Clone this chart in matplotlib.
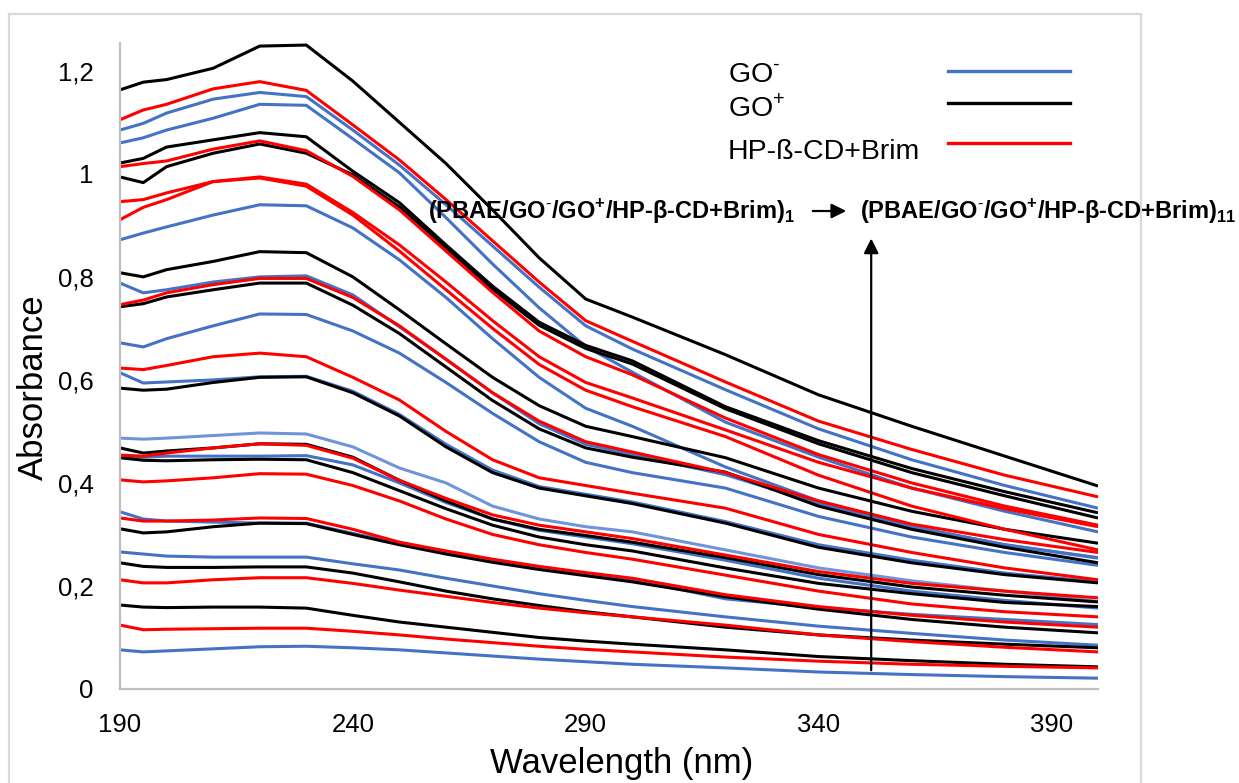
import matplotlib
matplotlib.use('Agg')
import matplotlib.pyplot as plt
from matplotlib.lines import Line2D

plt.rcParams['font.family'] = ['Liberation Sans', 'DejaVu Sans']
plt.rcParams['mathtext.fontset'] = 'custom'
plt.rcParams['mathtext.rm'] = 'Liberation Sans'
plt.rcParams['mathtext.bf'] = 'Liberation Sans:bold'

### DATA
wavelength = [190, 195, 200, 210, 220, 230, 240, 250, 260, 270, 280, 290, 300, 320, 340, 360, 380, 400]

# one entry per spectrum, top of the stack (at 190 nm) first
colors = ['k', 'r', 'b', 'b', 'k', 'r', 'k', 'r', 'r', 'b', 'k',
          'b', 'r', 'k', 'b', 'r', 'b', 'k', 'lb', 'k', 'r', 'b',
          'k', 'r', 'b', 'r', 'k', 'b', 'k', 'r', 'k', 'r', 'b']

spectra = [
    [1.163, 1.178, 1.183, 1.205, 1.248, 1.250, 1.180, 1.100, 1.020, 0.930, 0.837, 0.757, 0.722, 0.649, 0.571, 0.510, 0.452, 0.394],
    [1.105, 1.124, 1.135, 1.165, 1.179, 1.162, 1.095, 1.027, 0.950, 0.870, 0.790, 0.715, 0.675, 0.596, 0.520, 0.465, 0.415, 0.373],
    [1.085, 1.098, 1.118, 1.145, 1.158, 1.150, 1.085, 1.017, 0.940, 0.860, 0.780, 0.705, 0.660, 0.581, 0.505, 0.445, 0.395, 0.351],
    [1.060, 1.070, 1.085, 1.108, 1.135, 1.133, 1.068, 1.002, 0.915, 0.825, 0.740, 0.665, 0.615, 0.518, 0.450, 0.390, 0.345, 0.305],
    [1.021, 1.030, 1.052, 1.066, 1.080, 1.072, 1.005, 0.944, 0.862, 0.782, 0.712, 0.667, 0.637, 0.548, 0.482, 0.428, 0.383, 0.342],
    [1.014, 1.020, 1.025, 1.048, 1.064, 1.045, 0.995, 0.930, 0.850, 0.770, 0.695, 0.645, 0.610, 0.526, 0.455, 0.400, 0.355, 0.318],
    [0.994, 0.983, 1.014, 1.040, 1.058, 1.040, 0.998, 0.936, 0.856, 0.776, 0.706, 0.661, 0.631, 0.544, 0.476, 0.420, 0.375, 0.332],
    [0.946, 0.950, 0.963, 0.985, 0.994, 0.980, 0.925, 0.862, 0.790, 0.715, 0.645, 0.595, 0.565, 0.503, 0.440, 0.390, 0.350, 0.315],
    [0.911, 0.935, 0.950, 0.985, 0.992, 0.976, 0.920, 0.850, 0.775, 0.700, 0.630, 0.580, 0.548, 0.490, 0.415, 0.355, 0.310, 0.270],
    [0.872, 0.885, 0.897, 0.920, 0.940, 0.938, 0.895, 0.833, 0.760, 0.680, 0.605, 0.545, 0.510, 0.431, 0.365, 0.315, 0.280, 0.254],
    [0.808, 0.800, 0.814, 0.830, 0.849, 0.847, 0.800, 0.736, 0.670, 0.605, 0.550, 0.510, 0.490, 0.449, 0.390, 0.345, 0.310, 0.283],
    [0.788, 0.769, 0.775, 0.790, 0.800, 0.802, 0.765, 0.703, 0.640, 0.575, 0.515, 0.475, 0.455, 0.416, 0.360, 0.315, 0.280, 0.255],
    [0.746, 0.755, 0.769, 0.785, 0.797, 0.797, 0.760, 0.705, 0.640, 0.575, 0.520, 0.480, 0.460, 0.420, 0.365, 0.320, 0.290, 0.265],
    [0.742, 0.748, 0.761, 0.775, 0.788, 0.788, 0.745, 0.690, 0.625, 0.560, 0.505, 0.468, 0.450, 0.421, 0.355, 0.310, 0.275, 0.245],
    [0.672, 0.664, 0.680, 0.705, 0.728, 0.727, 0.695, 0.652, 0.595, 0.535, 0.480, 0.440, 0.420, 0.390, 0.335, 0.295, 0.265, 0.240],
    [0.623, 0.620, 0.628, 0.645, 0.652, 0.645, 0.605, 0.561, 0.500, 0.445, 0.410, 0.395, 0.380, 0.351, 0.300, 0.265, 0.235, 0.212],
    [0.614, 0.594, 0.596, 0.600, 0.606, 0.607, 0.578, 0.533, 0.475, 0.425, 0.393, 0.378, 0.363, 0.325, 0.280, 0.250, 0.225, 0.208],
    [0.584, 0.580, 0.582, 0.595, 0.605, 0.606, 0.575, 0.530, 0.470, 0.420, 0.390, 0.375, 0.360, 0.322, 0.275, 0.245, 0.222, 0.206],
    [0.487, 0.485, 0.487, 0.492, 0.497, 0.495, 0.470, 0.429, 0.400, 0.355, 0.330, 0.315, 0.305, 0.270, 0.235, 0.210, 0.190, 0.170],
    [0.468, 0.458, 0.462, 0.468, 0.476, 0.475, 0.450, 0.405, 0.365, 0.330, 0.310, 0.298, 0.285, 0.255, 0.222, 0.198, 0.182, 0.169],
    [0.454, 0.452, 0.458, 0.468, 0.476, 0.473, 0.448, 0.405, 0.370, 0.338, 0.318, 0.305, 0.292, 0.260, 0.228, 0.205, 0.190, 0.177],
    [0.450, 0.450, 0.452, 0.452, 0.452, 0.453, 0.435, 0.400, 0.362, 0.330, 0.308, 0.295, 0.282, 0.250, 0.215, 0.190, 0.172, 0.157],
    [0.449, 0.444, 0.443, 0.445, 0.446, 0.445, 0.420, 0.385, 0.350, 0.318, 0.295, 0.280, 0.268, 0.235, 0.205, 0.185, 0.168, 0.160],
    [0.406, 0.402, 0.404, 0.410, 0.418, 0.417, 0.395, 0.365, 0.330, 0.300, 0.280, 0.265, 0.252, 0.221, 0.190, 0.165, 0.150, 0.140],
    [0.344, 0.330, 0.326, 0.324, 0.322, 0.322, 0.302, 0.283, 0.266, 0.250, 0.236, 0.224, 0.212, 0.175, 0.158, 0.145, 0.135, 0.125],
    [0.332, 0.326, 0.326, 0.328, 0.332, 0.331, 0.310, 0.285, 0.268, 0.252, 0.238, 0.226, 0.215, 0.183, 0.160, 0.143, 0.130, 0.120],
    [0.311, 0.303, 0.305, 0.315, 0.322, 0.321, 0.300, 0.280, 0.262, 0.246, 0.232, 0.220, 0.208, 0.179, 0.155, 0.135, 0.120, 0.109],
    [0.266, 0.262, 0.258, 0.256, 0.256, 0.256, 0.243, 0.231, 0.215, 0.200, 0.185, 0.172, 0.160, 0.140, 0.122, 0.108, 0.095, 0.085],
    [0.245, 0.238, 0.236, 0.236, 0.237, 0.237, 0.225, 0.208, 0.190, 0.175, 0.162, 0.150, 0.140, 0.120, 0.105, 0.095, 0.087, 0.080],
    [0.212, 0.206, 0.206, 0.212, 0.216, 0.216, 0.205, 0.192, 0.180, 0.168, 0.157, 0.148, 0.140, 0.124, 0.105, 0.092, 0.081, 0.072],
    [0.163, 0.159, 0.158, 0.159, 0.159, 0.157, 0.143, 0.130, 0.120, 0.110, 0.100, 0.093, 0.087, 0.076, 0.063, 0.055, 0.048, 0.043],
    [0.124, 0.115, 0.116, 0.117, 0.118, 0.118, 0.112, 0.105, 0.097, 0.090, 0.083, 0.077, 0.072, 0.062, 0.054, 0.048, 0.044, 0.041],
    [0.076, 0.072, 0.074, 0.078, 0.082, 0.083, 0.080, 0.076, 0.070, 0.064, 0.058, 0.053, 0.048, 0.041, 0.033, 0.028, 0.024, 0.021],
]

xticks = [190, 240, 290, 340, 390]
yticks = [0, 0.2, 0.4, 0.6, 0.8, 1.0, 1.2]
ytick_labels = ['0', '0,2', '0,4', '0,6', '0,8', '1', '1,2']

legend_labels = [r'GO$^{\text{-}}$', r'GO$^{+}$', 'HP-ß-CD+Brim']
legend_colors = ['#4472C4', '#000000', '#FF0000']

palette = {'b': '#4472C4', 'lb': '#6F94D8', 'k': '#000000', 'r': '#FF0000'}

W, H = 1239, 783
fig = plt.figure(figsize=(W / 100, H / 100), dpi=100)

# outer chart frame (bottom edge runs off the picture)
for xs, ys in [([9, 9], [14, H + 5]), ([9, 1141], [14, 14]), ([1141, 1141], [14, H + 5])]:
    fig.add_artist(Line2D([x / W for x in xs], [1 - y / H for y in ys],
                          color='#d9d9d9', lw=1.6, clip_on=False))

ax = fig.add_axes([120 / W, 1 - 689 / H, (1098 - 120) / W, (689 - 43) / H])
# blue spectra first, then black, red on top
for group in [('b', 'lb'), ('k',), ('r',)]:
    for spec, c in zip(spectra, colors):
        if c in group:
            ax.plot(wavelength, spec, color=palette[c], lw=2.2,
                    solid_joinstyle='round', solid_capstyle='butt')

ax.set_xlim(190, 400)
ax.set_ylim(0, 1.254)
ax.set_xticks(xticks)
ax.set_yticks(yticks)
ax.set_yticklabels(ytick_labels)
ax.tick_params(length=0, labelsize=18.5, colors='#000000')
ax.tick_params(axis='x', pad=17)
ax.tick_params(axis='y', pad=19)
for s in ['top', 'right']:
    ax.spines[s].set_visible(False)
for s in ['left', 'bottom']:
    ax.spines[s].set_color('#bfbfbf')
    ax.spines[s].set_linewidth(1.6)

fig.text(622 / W, 1 - 763 / H, 'Wavelength (nm)', fontsize=25, ha='center', va='center')
fig.text(33 / W, 1 - 387 / H, 'Absorbance', fontsize=25, ha='center', va='center',
         rotation=90)

# legend drawn by hand like the original
for lab, col, ty, ly in zip(legend_labels, legend_colors, [75, 108, 152], [71, 103, 143]):
    fig.text(728 / W, 1 - ty / H, lab, fontsize=20.5, ha='left', va='center')
    fig.add_artist(Line2D([948 / W, 1070 / W], [1 - ly / H, 1 - ly / H], color=col, lw=2.4))

# layer annotation
fig.text(428 / W, 1 - 212 / H,
         r'(PBAE/GO$^{\text{-}}$/GO$^{\mathbf{+}}$/HP-β-CD+Brim)$_{\mathbf{1}}$',
         fontsize=17, fontweight='bold', ha='left', va='center')
fig.text(860 / W, 1 - 212 / H,
         r'(PBAE/GO$^{\text{-}}$/GO$^{\mathbf{+}}$/HP-β-CD+Brim)$_{\mathbf{11}}$',
         fontsize=17, fontweight='bold', ha='left', va='center')
ax.annotate('', xy=(849 / W, 1 - 211 / H), xytext=(810 / W, 1 - 211 / H),
            xycoords='figure fraction', textcoords='figure fraction',
            arrowprops=dict(arrowstyle='-|>', color='k', lw=1.6, mutation_scale=22))
ax.annotate('', xy=(351.3, 0.880), xytext=(351.3, 0.031),
            xycoords='data', textcoords='data',
            arrowprops=dict(arrowstyle='-|>', color='k', lw=1.6, mutation_scale=22))

fig.savefig('out.png', dpi=100)
